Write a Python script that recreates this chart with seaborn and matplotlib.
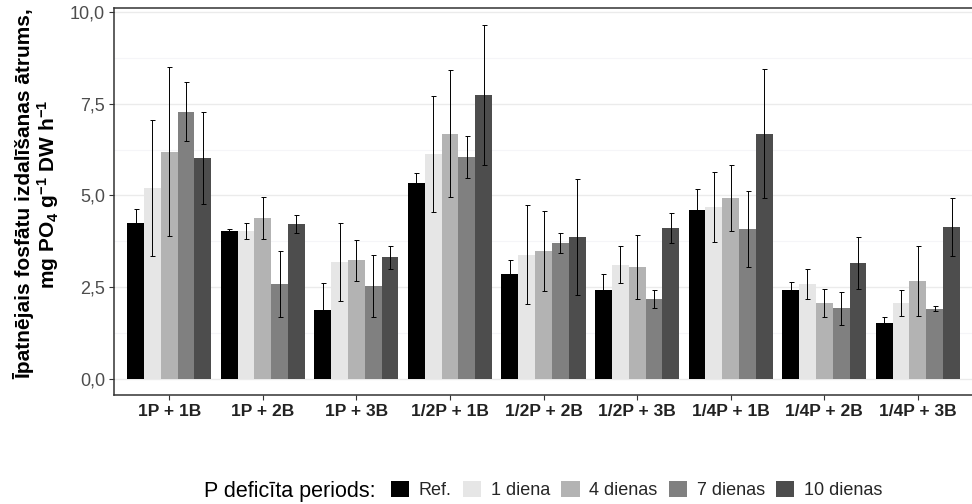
import matplotlib
matplotlib.use("Agg")
import matplotlib.pyplot as plt
from matplotlib.patches import Patch
from matplotlib.ticker import FixedLocator
import seaborn as sns
import pandas as pd

groups = ["1P + 1B", "1P + 2B", "1P + 3B", "1/2P + 1B", "1/2P + 2B",
          "1/2P + 3B", "1/4P + 1B", "1/4P + 2B", "1/4P + 3B"]
periods = ["Ref.", "1 diena", "4 dienas", "7 dienas", "10 dienas"]
colors = ["#000000", "#E6E6E6", "#B3B3B3", "#808080", "#4D4D4D"]

ref = [4.25, 4.03, 1.88, 5.33, 2.86, 2.43, 4.60, 2.43, 1.53]
ref_err = [0.39, 0.05, 0.74, 0.29, 0.37, 0.44, 0.58, 0.22, 0.17]
d1 = [5.20, 4.03, 3.19, 6.13, 3.38, 3.11, 4.69, 2.59, 2.07]
d1_err = [1.85, 0.22, 1.07, 1.58, 1.35, 0.50, 0.95, 0.42, 0.35]
d4 = [6.19, 4.39, 3.24, 6.68, 3.49, 3.05, 4.93, 2.07, 2.67]
d4_err = [2.30, 0.57, 0.56, 1.73, 1.10, 0.86, 0.91, 0.38, 0.96]
d7 = [7.28, 2.59, 2.53, 6.05, 3.71, 2.18, 4.09, 1.93, 1.91]
d7_err = [0.80, 0.91, 0.84, 0.57, 0.27, 0.24, 1.03, 0.45, 0.07]
d10 = [6.02, 4.22, 3.32, 7.74, 3.87, 4.11, 6.68, 3.16, 4.14]
d10_err = [1.25, 0.25, 0.31, 1.90, 1.58, 0.41, 1.76, 0.70, 0.78]

yticks = [0, 2.5, 5, 7.5, 10]
ytick_labels = ["0,0", "2,5", "5,0", "7,5", "10,0"]

means = [ref, d1, d4, d7, d10]
errs = [ref_err, d1_err, d4_err, d7_err, d10_err]

rows = []
for p, vals, es in zip(periods, means, errs):
    for g, v, e in zip(groups, vals, es):
        rows.append({"group": g, "period": p, "value": v, "err": e})
df = pd.DataFrame(rows)

sns.set_style("white")
plt.rcParams["font.family"] = ["Liberation Sans", "DejaVu Sans"]
plt.rcParams["mathtext.default"] = "regular"

fig = plt.figure(figsize=(9.72, 5.04), dpi=100)
ax = fig.add_axes([114 / 972, 1 - 395 / 504, (974 - 114) / 972, (395 - 7.5) / 504])

sns.barplot(data=df, x="group", y="value", hue="period", order=groups,
            hue_order=periods, palette=colors, width=0.9, errorbar=None,
            linewidth=0, saturation=1, legend=False, ax=ax)

for cont, es in zip(ax.containers, errs):
    xs = [b.get_x() + b.get_width() / 2 for b in cont]
    ys = [b.get_height() for b in cont]
    ax.errorbar(xs, ys, yerr=es, fmt="none", ecolor="black", elinewidth=0.7,
                capsize=1.8, capthick=0.7, zorder=5)

ax.set_xlim(-0.59, 8.6)
ax.set_ylim(-0.436, 10.12)
ax.set_yticks(yticks)
ax.set_yticklabels(ytick_labels)
ax.yaxis.set_minor_locator(FixedLocator([1.25, 3.75, 6.25, 8.75]))
ax.set_axisbelow(True)
ax.yaxis.grid(True, which="major", color="#EBEBEB", lw=1.0)
ax.yaxis.grid(True, which="minor", color="#F5F5F8", lw=0.8)
ax.xaxis.grid(False)

for s in ["top", "left", "bottom", "right"]:
    ax.spines[s].set_color("#333333")
    ax.spines[s].set_linewidth(1.1)

ax.tick_params(axis="x", length=3.5, width=0.8, color="#333333",
               labelsize=12.5, labelcolor="#222222", pad=3, bottom=True)
ax.tick_params(axis="y", length=3.5, width=0.8, color="#333333",
               labelsize=13, labelcolor="#4D4D4D", pad=3, left=True)
ax.tick_params(axis="y", which="minor", length=0)
for t in ax.get_xticklabels():
    t.set_fontweight("bold")

ax.set_xlabel("")
ax.set_ylabel("")

fig.text(37 / 972, 1 - 194 / 504,
         "Īpatnējais fosfātu izdalīšanas ātrums,\nmg PO$_4$ g$^{-1}$ DW h$^{-1}$",
         rotation=90, ha="center", va="center", multialignment="center",
         fontsize=15, fontweight="bold", color="black", linespacing=1.05)

fig.text(204 / 972, 1 - 491 / 504, "P deficīta periods:", ha="left",
         va="center", fontsize=15.5, color="black")
handles = [Patch(facecolor=c, edgecolor="none") for c in colors]
fig.legend(handles, periods, loc="center left",
           bbox_to_anchor=(391 / 972, 1 - 490 / 504), ncol=5, frameon=False,
           fontsize=13, handlelength=1.0, handleheight=1.0,
           handletextpad=0.55, columnspacing=0.62, borderaxespad=0,
           borderpad=0)

fig.savefig("out.png", dpi=100)
